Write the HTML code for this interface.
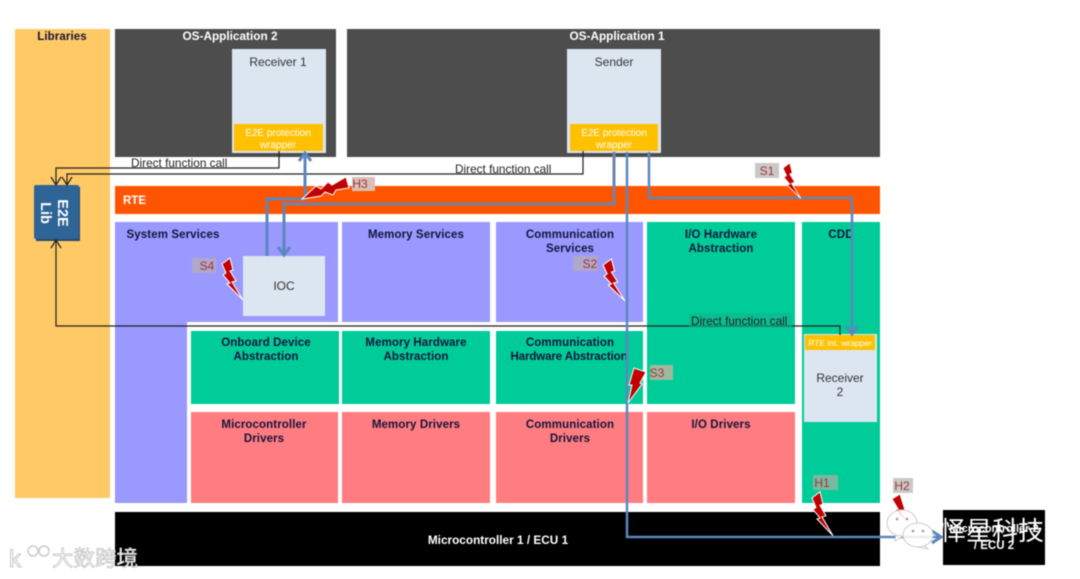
<!DOCTYPE html>
<html><head><meta charset="utf-8">
<style>
html,body{margin:0;padding:0;background:#fff;width:1080px;height:579px;overflow:hidden}
svg{display:block;filter:blur(.45px)}
text{font-family:"Liberation Sans","Noto Sans CJK SC",sans-serif}
.h{font-size:11.5px;font-weight:bold;fill:#14143c;text-anchor:middle;letter-spacing:.1px}
.w{font-size:11.8px;font-weight:bold;fill:#fff;text-anchor:middle}
.d{font-size:11.8px;fill:#222;}
.g{font-size:12px;fill:#333;text-anchor:middle}
.y{font-size:10px;fill:#fff;text-anchor:middle}
</style></head><body>
<svg width="1080" height="579" viewBox="0 0 1080 579" xmlns="http://www.w3.org/2000/svg">
<defs>
<g id="bolt"><path d="M0,0 L8,-6 L11,6 L8,7 L14,17 L10,18 L21,36 L5,20 L8,19 L1,11 L4,9 Z" fill="#c00000" stroke="#fff" stroke-width="1"/></g>
</defs>
<rect width="1080" height="579" fill="#fff"/>
<rect x="15" y="29" width="95" height="469" fill="#ffc966"/>
<text x="62" y="40" class="h">Libraries</text>
<rect x="115" y="29" width="221" height="128" fill="#4d4d4d"/>
<rect x="347" y="29" width="533" height="128" fill="#4d4d4d"/>
<text x="230" y="40" class="w">OS-Application 2</text>
<text x="617" y="40" class="w">OS-Application 1</text>
<rect x="232" y="49" width="94" height="104" fill="#dce6f1"/>
<rect x="234" y="124" width="89" height="27" fill="#ffc000"/>
<text x="278" y="66" class="g">Receiver 1</text>
<text x="278" y="136" class="y">E2E protection</text>
<text x="278" y="148" class="y">wrapper</text>
<rect x="567" y="49" width="94" height="104" fill="#dce6f1"/>
<rect x="570" y="124" width="88" height="27" fill="#ffc000"/>
<text x="614" y="66" class="g">Sender</text>
<text x="614" y="136" class="y">E2E protection</text>
<text x="614" y="148" class="y">wrapper</text>
<rect x="115" y="186" width="765" height="28" fill="#ff5500"/>
<text x="123" y="204" font-size="11.5" font-weight="bold" fill="#fff">RTE</text>
<path d="M115,222H338V322H187V503H115Z" fill="#9999ff"/>
<rect x="342" y="222" width="148" height="100" fill="#9999ff"/>
<rect x="496" y="222" width="147" height="100" fill="#9999ff"/>
<rect x="647" y="222" width="148" height="182" fill="#00cc99"/>
<rect x="802" y="222" width="78" height="281" fill="#00cc99"/>
<rect x="191" y="331" width="148" height="73" fill="#00cc99"/>
<rect x="342" y="331" width="148" height="73" fill="#00cc99"/>
<rect x="496" y="331" width="147" height="73" fill="#00cc99"/>
<rect x="191" y="412" width="147" height="91" fill="#ff7c80"/>
<rect x="342" y="412" width="148" height="91" fill="#ff7c80"/>
<rect x="496" y="412" width="147" height="91" fill="#ff7c80"/>
<rect x="647" y="412" width="148" height="91" fill="#ff7c80"/>
<rect x="115" y="512" width="765" height="54" fill="#000"/>
<rect x="943" y="510" width="102" height="55" fill="#000"/>
<rect x="243" y="256" width="82" height="60" fill="#dce6f1"/>
<text x="284" y="290" class="g">IOC</text>
<rect x="804" y="334" width="73" height="88" fill="#dce6f1"/>
<rect x="805" y="335" width="70" height="15" fill="#ffc000"/>
<text x="840" y="346" font-size="8.5" fill="#fff" text-anchor="middle">RTE int. wrapper</text>
<text x="840" y="382" class="g">Receiver</text>
<text x="840" y="396" class="g">2</text>
<text x="173" y="238" class="h">System Services</text>
<text x="416" y="238" class="h">Memory Services</text>
<text x="570" y="238" class="h">Communication</text>
<text x="570" y="252" class="h">Services</text>
<text x="721" y="238" class="h">I/O Hardware</text>
<text x="721" y="252" class="h">Abstraction</text>
<text x="841" y="238" class="h">CDD</text>
<text x="266" y="346" class="h">Onboard Device</text>
<text x="266" y="360" class="h">Abstraction</text>
<text x="416" y="346" class="h">Memory Hardware</text>
<text x="416" y="360" class="h">Abstraction</text>
<text x="570" y="346" class="h">Communication</text>
<text x="569" y="360" class="h" style="letter-spacing:-.1px">Hardware Abstraction</text>
<text x="264" y="428" class="h">Microcontroller</text>
<text x="264" y="442" class="h">Drivers</text>
<text x="416" y="428" class="h">Memory Drivers</text>
<text x="570" y="428" class="h">Communication</text>
<text x="570" y="442" class="h">Drivers</text>
<text x="721" y="428" class="h">I/O Drivers</text>
<text x="498" y="544" class="w" font-size="11.8">Microcontroller 1 / ECU 1</text>
<text x="994" y="532" font-size="11" font-weight="bold" fill="#fff" text-anchor="middle">Microcontroller 2</text>
<text x="994" y="549" font-size="11.5" font-weight="bold" fill="#fff" text-anchor="middle">/ ECU 2</text>
<rect x="36" y="187" width="44" height="54" fill="#274a6e"/>
<rect x="34" y="185" width="45" height="54" rx="2" fill="#2f6497"/>
<text transform="translate(58,213) rotate(90)" font-size="14.5" font-weight="bold" fill="#fff" text-anchor="middle">E2E</text>
<text transform="translate(41,213) rotate(90)" font-size="14.5" font-weight="bold" fill="#fff" text-anchor="middle">Lib</text>
<g fill="none" stroke="#222" stroke-width="1.2">
<path d="M279,151V168H56V185"/>
<path d="M51,177L56,185L61,177"/>
<path d="M583,151V174H67V185"/>
<path d="M62,177L67,185L72,177"/>
<path d="M56,240V326H840V335"/>
<path d="M51,248L56,240L61,248"/>
</g>
<text x="131" y="167" class="d">Direct function call</text>
<text x="455" y="173" class="d">Direct function call</text>
<rect x="689" y="313" width="103" height="15" fill="#10b48c" opacity=".6"/>
<text x="691" y="325" class="d">Direct function call</text>
<g fill="none" stroke="#5b87bd" stroke-width="2.5">
<path d="M267,256V199H305V154" stroke-width="3"/>
<path d="M299,161L305,153L311,161" stroke-width="3"/>
<path d="M614,152V204H284V255" stroke="#6f84ad" stroke-width="3"/>
<path d="M284,206V255" stroke-width="3"/>
<path d="M278,247L284,255L290,247" stroke-width="3"/>
<path d="M627,152V537H940"/>
<path d="M932,531L941,537L932,543" stroke-width="3"/>
<path d="M649,152V198H852V334"/>
<path d="M846,326L852,334L858,326" stroke-width="3"/>
</g>
<g font-size="12" fill="#a83232">
<rect x="755" y="163" width="24" height="15" fill="#c8c8c8"/><text x="764" y="175" text-anchor="middle" dx="3">S1</text>
<rect x="573" y="256" width="25" height="15" fill="#b0a8c8"/><text x="590" y="268" text-anchor="middle">S2</text>
<rect x="650" y="365" width="23" height="15" fill="#a0b8a0"/><text x="657" y="377" text-anchor="middle">S3</text>
<rect x="192" y="258" width="24" height="15" fill="#b0a8c8"/><text x="207" y="270" text-anchor="middle">S4</text>
<rect x="813" y="475" width="25" height="15" fill="#7ab8a0"/><text x="822" y="487" text-anchor="middle">H1</text>
<rect x="893" y="478" width="20" height="15" fill="#c8c8c8"/><text x="902" y="490" text-anchor="middle">H2</text>
<rect x="352" y="177" width="23" height="14" fill="#d8c0b8"/><text x="360" y="188" text-anchor="middle">H3</text>
</g>
<path d="M302,199L316,186L321,189L328,182L332,185L346,177L349,188L336,190L333,195L325,192L321,196Z" fill="#c00000" stroke="#fff" stroke-width="1"/>
<use href="#bolt" transform="translate(783,168) scale(.85,.85)"/>
<use href="#bolt" transform="translate(603,265) scale(1.05,1)"/>
<use href="#bolt" transform="translate(222,264)"/>
<path d="M628,403L632,385L629,385L634,368L646,372L640,383L642,384Z" fill="#c00000" stroke="#fff" stroke-width="1"/>
<use href="#bolt" transform="translate(812,498) scale(1,1.05)"/>
<path d="M892,499L900,494L905,510L900,510L910,525L895,510L898,509Z" fill="#c00000" stroke="#fff" stroke-width="1"/>
<g fill="#fff" stroke="#ccc" stroke-width="1">
<path d="M896,535L895,541L903,536Z"/>
<ellipse cx="902" cy="523" rx="15" ry="13" fill-opacity=".85"/>
<path d="M924,545L928,549L917,547Z"/>
<ellipse cx="918" cy="535" rx="15" ry="12" fill-opacity=".85"/>
</g>
<g fill="#999"><circle cx="897" cy="519" r="1.3"/><circle cx="907" cy="519" r="1.3"/><circle cx="913" cy="531" r="1.3"/><circle cx="923" cy="531" r="1.3"/></g>
<text x="992" y="540" font-size="26" fill="#fff" text-anchor="middle" style="font-family:'Noto Sans CJK SC',sans-serif">怿星科技</text>
<text x="52" y="566" font-size="21.5" fill="#fff" stroke="#bbb" stroke-width=".7" style="font-family:'Noto Sans CJK SC',sans-serif">大数跨境</text>
<text x="9" y="567" font-size="24" fill="#fff" stroke="#bbb" stroke-width=".8">k</text>
<g fill="none" stroke="#ccc" stroke-width="1.5"><circle cx="33" cy="551" r="5"/><circle cx="44" cy="551" r="5"/></g>
</svg>
</body></html>
